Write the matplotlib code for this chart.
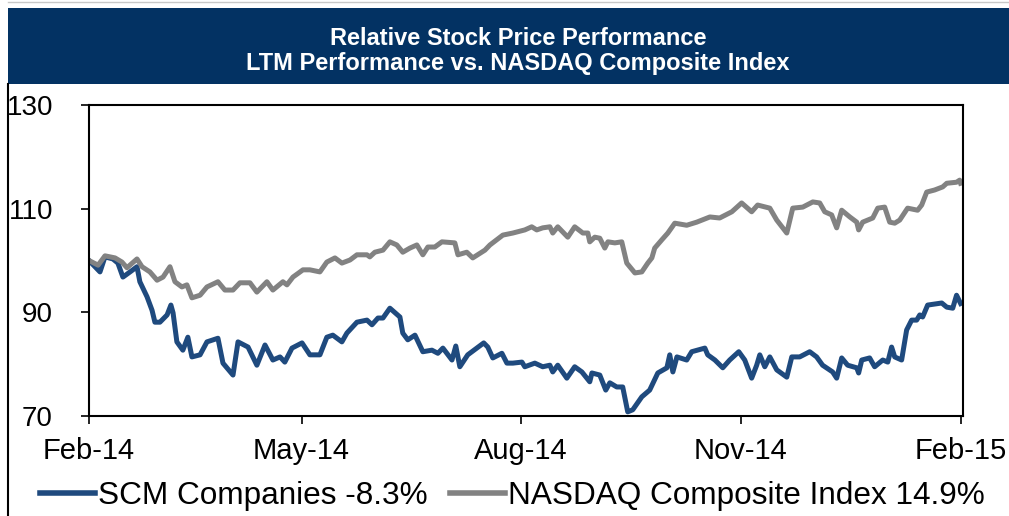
import matplotlib
matplotlib.use("Agg")
import matplotlib.pyplot as plt
from matplotlib.patches import Rectangle
from matplotlib.lines import Line2D
import pandas as pd

plt.rcParams["font.family"] = ["Liberation Sans", "DejaVu Sans"]

START = pd.Timestamp("2014-02-07")

# days since start / indexed value (start = 100)
scm_days = [0, 4.6, 6.7, 10.0, 12.1, 14.2, 17.2, 20.1, 21.3, 24.3, 26.4, 27.6, 29.7, 32.7,
            34.3, 35.2, 36.8, 39.3, 41.4, 43.1, 46.5, 49.4, 54.0, 56.1, 60.3, 62.4, 66.6,
            70.3, 73.7, 77.0, 80.0, 82.0, 85.0, 89.2, 92.5, 96.7, 99.6, 102.1, 105.9, 108.0,
            112.2, 116.4, 118.5, 121.0, 123.1, 126.0, 130.2, 131.4, 133.5, 136.5, 139.8,
            143.6, 146.1, 148.2, 152.0, 153.6, 155.3, 158.6, 162.4, 165.3, 167.0, 169.1,
            172.9, 175.0, 177.5, 181.3, 182.5, 186.7, 190.0, 193.0, 194.2, 196.3, 200.1,
            203.4, 206.4, 209.7, 210.6, 213.9, 216.4, 218.1, 221.0, 223.5, 225.6, 227.7,
            231.5, 234.8, 238.2, 242.0, 243.2, 244.5, 246.2, 250.3, 252.4, 257.9, 259.1,
            262.1, 265.4, 268.3, 272.1, 274.6, 277.5, 279.6, 280.9, 283.0, 285.1, 288.0,
            292.2, 294.3, 297.6, 301.8, 304.7, 307.2, 311.4, 313.1, 315.2, 317.7, 321.5,
            322.3, 323.6, 326.9, 329.0, 332.4, 334.5, 336.1, 337.4, 340.3, 342.4, 344.5,
            346.6, 347.9, 349.1, 351.2, 357.1, 359.2, 361.7, 363.3, 365.0]
scm_vals = [100.0, 97.8, 100.7, 100.3, 99.5, 96.8, 97.8, 98.8, 95.9, 93.0, 90.4, 88.1, 88.1,
            89.5, 91.4, 89.9, 84.3, 82.7, 85.2, 81.4, 81.8, 84.3, 85.0, 80.2, 77.9, 84.3,
            83.3, 79.8, 83.7, 80.8, 81.4, 80.4, 83.1, 84.1, 81.8, 81.8, 85.2, 85.6, 84.3,
            86.0, 88.1, 88.5, 87.6, 88.9, 88.9, 90.8, 89.1, 86.0, 84.7, 85.6, 82.4, 82.7,
            82.1, 83.1, 80.8, 83.5, 79.5, 81.8, 83.1, 84.1, 83.3, 81.2, 82.1, 80.2, 80.2,
            80.4, 79.5, 80.2, 79.5, 79.8, 78.5, 79.8, 77.3, 79.5, 78.5, 76.6, 78.3, 77.9,
            75.0, 76.4, 75.6, 75.6, 70.8, 71.2, 73.7, 75.0, 78.3, 79.3, 81.8, 78.5, 81.4,
            80.8, 82.4, 83.1, 81.8, 80.8, 79.3, 80.8, 82.4, 80.8, 77.3, 79.8, 81.8, 79.5,
            81.4, 78.9, 77.5, 81.4, 81.4, 82.4, 81.4, 79.8, 78.5, 77.3, 81.2, 79.8, 79.3,
            78.3, 80.8, 81.2, 79.5, 80.8, 80.4, 83.3, 81.4, 80.8, 86.6, 88.5, 88.5, 89.5,
            89.1, 91.4, 91.8, 91.0, 90.8, 93.3, 91.7]

ndx_days = [0, 3.8, 6.7, 10.9, 13.8, 15.9, 20.1, 22.2, 25.5, 28.5, 31.0, 33.9, 36.0, 38.9,
            41.0, 43.1, 46.5, 49.4, 54.0, 56.9, 60.3, 63.2, 67.4, 70.3, 74.5, 77.0, 81.2,
            82.9, 85.4, 89.6, 92.5, 96.7, 99.6, 103.0, 105.9, 109.3, 112.2, 116.4, 117.6,
            119.7, 123.1, 126.0, 128.9, 131.4, 134.4, 137.3, 139.8, 141.9, 144.8, 147.8,
            153.2, 154.5, 158.2, 160.7, 165.8, 167.9, 173.3, 177.5, 182.5, 185.4, 187.5,
            190.0, 193.0, 194.2, 196.3, 200.5, 203.4, 206.8, 208.9, 209.7, 211.8, 213.9,
            216.0, 217.3, 220.2, 223.1, 225.2, 228.6, 231.5, 234.0, 235.7, 236.9, 239.9,
            242.4, 245.3, 250.3, 254.5, 260.0, 264.1, 269.2, 273.3, 277.5, 280.0, 285.1,
            288.0, 292.2, 294.7, 298.9, 303.1, 306.0, 308.1, 311.0, 313.1, 315.2, 318.6,
            321.5, 322.3, 324.0, 328.2, 330.3, 333.2, 335.3, 337.4, 339.5, 342.8, 347.0,
            348.7, 350.8, 354.1, 357.5, 359.2, 363.3, 364.6, 365.0]
ndx_vals = [100.0, 99.1, 100.9, 100.5, 99.7, 98.6, 100.3, 98.8, 97.8, 96.2, 96.8, 98.8,
            95.9, 94.9, 95.3, 92.8, 93.3, 94.9, 95.9, 94.3, 94.3, 95.7, 95.7, 93.9, 95.9,
            94.3, 95.9, 95.3, 96.8, 98.2, 98.2, 97.8, 99.7, 100.5, 99.5, 100.1, 101.1, 101.1,
            100.7, 101.6, 102.0, 103.6, 103.0, 101.6, 102.4, 103.0, 101.1, 102.6, 102.6,
            103.6, 103.4, 101.1, 101.6, 100.5, 102.0, 103.0, 104.9, 105.3, 105.9, 106.5,
            105.9, 106.3, 106.5, 105.3, 106.5, 104.5, 106.5, 105.3, 105.3, 103.6, 104.5,
            104.3, 102.4, 103.6, 103.4, 103.6, 99.5, 97.6, 97.8, 99.5, 100.5, 102.4, 104.0,
            105.3, 107.2, 106.8, 107.4, 108.4, 108.2, 109.4, 111.1, 109.4, 110.7, 110.1,
            107.8, 105.3, 110.1, 110.3, 111.3, 111.1, 109.4, 108.8, 106.3, 109.7, 108.4,
            107.4, 105.9, 107.4, 108.2, 110.1, 110.3, 107.4, 107.2, 107.8, 110.1, 109.7,
            110.7, 113.2, 113.6, 114.2, 114.9, 115.1, 115.5, 114.9]

series_labels = ["SCM Companies -8.3%", "NASDAQ Composite Index 14.9%"]
tick_dates = ["2014-02-07", "2014-05-07", "2014-08-07", "2014-11-07", "2015-02-07"]
tick_labels = ["Feb-14", "May-14", "Aug-14", "Nov-14", "Feb-15"]

BLUE = "#1F4A7E"
GRAY = "#828282"
NAVY = "#033263"


def to_dates(days):
    return [START + pd.Timedelta(days=d) for d in days]


fig = plt.figure(figsize=(10.09, 5.16), dpi=100)

# header band and frame
fig.patches.append(Rectangle((8 / 1009, 1 - 84 / 516), 1 - 8 / 1009, 76 / 516,
                             transform=fig.transFigure, facecolor=NAVY, edgecolor="none"))
fig.add_artist(Line2D([8 / 1009, 8 / 1009], [0, 1 - 84 / 516], transform=fig.transFigure,
                      color="black", lw=1.5))
fig.add_artist(Line2D([8 / 1009, 1], [1 - 2 / 516, 1 - 2 / 516], transform=fig.transFigure,
                      color="#c8c8c8", lw=1))
fig.text(518 / 1009, 1 - 51 / 516, "Relative Stock Price Performance\nLTM Performance vs. NASDAQ Composite Index",
         ha="center", va="center", color="white", fontsize=17, fontweight="bold",
         linespacing=1.1)

ax = fig.add_axes([89 / 1009, 1 - 416 / 516, (963 - 89) / 1009, (416 - 105) / 516])

ax.plot(to_dates(scm_days), scm_vals, color=BLUE, lw=3.6, solid_joinstyle="round")
ax.plot(to_dates(ndx_days), ndx_vals, color=GRAY, lw=3.6, solid_joinstyle="round")

ax.set_xlim(START, START + pd.Timedelta(days=366))
ax.set_ylim(70, 130)
ax.set_yticks([70, 90, 110, 130])
ax.set_xticks(pd.to_datetime(tick_dates))
ax.set_xticklabels(tick_labels)

for s in ax.spines.values():
    s.set_linewidth(1.5)
ax.tick_params(axis="y", labelsize=20, length=6, width=1.2, pad=20)
ax.tick_params(axis="x", labelsize=21, length=6, width=1.2, pad=9)

handles = [Line2D([0], [0], color=BLUE, lw=4), Line2D([0], [0], color=GRAY, lw=4)]
fig.legend(handles, series_labels, loc="center", bbox_to_anchor=(0.508, 1 - 496 / 516),
           ncol=2, frameon=False, fontsize=22.7, handlelength=1.75, handletextpad=0.1,
           columnspacing=0.7, borderaxespad=0)

fig.savefig("out.png", dpi=100)
